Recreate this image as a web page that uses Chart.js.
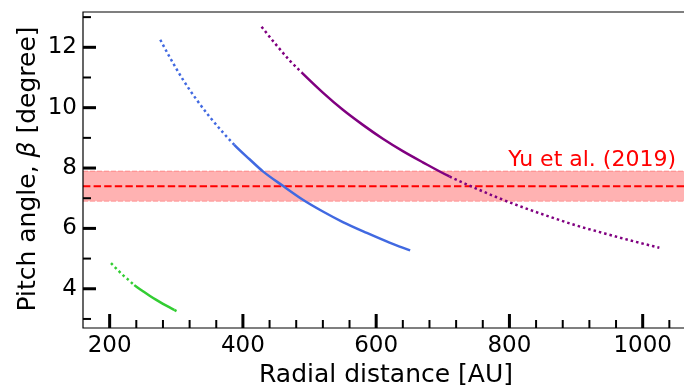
<!DOCTYPE html>
<html>
<head>
<meta charset="utf-8">
<script src="https://cdn.jsdelivr.net/npm/chart.js@4/dist/chart.umd.min.js"></script>
<style>
html, body { margin: 0; padding: 0; background: #fff; }
#wrap { width: 684px; height: 385px; }
</style>
</head>
<body>
<div id="wrap"><canvas id="grafico"></canvas></div>
<script>
// curvas (r en AU, beta en grados)
const greenR = [202, 210, 220, 230, 237, 250, 260, 270, 280, 290, 297, 304];
const greenBeta = [4.85, 4.67, 4.45, 4.26, 4.12, 3.92, 3.77, 3.63, 3.50, 3.38, 3.30, 3.22];
const greenSolid = [237, 297];

const blueR = [276, 290, 310, 330, 350, 370, 387, 410, 430, 460, 490, 520, 550, 586, 620, 651];
const blueBeta = [12.25, 11.68, 10.93, 10.28, 9.70, 9.18, 8.77, 8.29, 7.89, 7.41, 6.95, 6.56, 6.21, 5.85, 5.53, 5.27];
const blueSolid = [387, 651];

const purpleR = [428, 450, 470, 488, 520, 550, 580, 610, 640, 670, 710, 740, 780, 820, 860, 900, 940, 980, 1025];
const purpleBeta = [12.68, 12.08, 11.57, 11.17, 10.50, 9.93, 9.43, 8.97, 8.56, 8.19, 7.72, 7.42, 7.04, 6.70, 6.39, 6.10, 5.85, 5.61, 5.36];
const purpleSolid = [488, 710];

// Yu et al. (2019)
const yuBeta = 7.4;
const yuLow = 6.9;
const yuHigh = 7.9;
const yuLabel = 'Yu et al. (2019)';

const xTicks = [200, 400, 600, 800, 1000];
const xMinor = [240, 280, 320, 360, 440, 480, 520, 560, 640, 680, 720, 760, 840, 880, 920, 960, 1040];
const yTicks = [4, 6, 8, 10, 12];
const yMinor = [3, 5, 7, 9, 11, 13];

const xMin = 160, xMax = 1062;
const yMin = 2.7, yMax = 13.17;

const FONT = 'DejaVu Sans';
const PUNTOS = [2.5, 3];

function curva(label, xs, ys, solid, color) {
    return {
        label: label,
        data: xs.map((x, i) => ({ x: x, y: ys[i] })),
        borderColor: color,
        borderWidth: 2.5,
        borderCapStyle: 'butt',
        borderDash: PUNTOS,
        pointRadius: 0,
        fill: false,
        cubicInterpolationMode: 'monotone',
        segment: {
            borderDash: c => (c.p0.parsed.x >= solid[0] - 0.01 && c.p1.parsed.x <= solid[1] + 0.01) ? [] : PUNTOS
        }
    };
}

// ejes, ticks hacia dentro, titulos y texto
const marco = {
    id: 'marco',
    afterDraw(chart) {
        const ctx = chart.ctx;
        const a = chart.chartArea;
        const xs = chart.scales.x, ys = chart.scales.y;
        ctx.save();
        ctx.strokeStyle = '#000';
        ctx.lineCap = 'butt';

        ctx.lineWidth = 1.2;
        ctx.beginPath();
        ctx.moveTo(a.right, a.top);
        ctx.lineTo(a.left, a.top);
        ctx.lineTo(a.left, a.bottom);
        ctx.lineTo(a.right, a.bottom);
        ctx.stroke();

        function tick(x1, y1, x2, y2, w) {
            ctx.lineWidth = w;
            ctx.beginPath();
            ctx.moveTo(x1, y1);
            ctx.lineTo(x2, y2);
            ctx.stroke();
        }
        xTicks.forEach(v => { const p = xs.getPixelForValue(v); tick(p, a.bottom, p, a.bottom - 14, 3); });
        xMinor.forEach(v => { const p = xs.getPixelForValue(v); tick(p, a.bottom, p, a.bottom - 8, 2); });
        yTicks.forEach(v => { const p = ys.getPixelForValue(v); tick(a.left, p, a.left + 13, p, 3); });
        yMinor.forEach(v => { const p = ys.getPixelForValue(v); tick(a.left, p, a.left + 8, p, 2); });

        ctx.fillStyle = '#000';
        ctx.font = '25px "' + FONT + '"';
        ctx.textAlign = 'center';
        ctx.textBaseline = 'alphabetic';
        ctx.fillText('Radial distance [AU]', 386, 381.5);

        // titulo eje y con beta en cursiva
        const partes = [['Pitch angle, ', ''], ['\u03b2', 'italic '], [' [degree]', '']];
        let total = 0;
        partes.forEach(p => { ctx.font = p[1] + '25px "' + FONT + '"'; total += ctx.measureText(p[0]).width; });
        ctx.translate(35, (a.top + a.bottom) / 2 - 1);
        ctx.rotate(-Math.PI / 2);
        ctx.textAlign = 'left';
        let pos = -total / 2;
        partes.forEach(p => {
            ctx.font = p[1] + '25px "' + FONT + '"';
            ctx.fillText(p[0], pos, 0);
            pos += ctx.measureText(p[0]).width;
        });
        ctx.restore();

        ctx.save();
        ctx.fillStyle = 'red';
        ctx.font = '22px "' + FONT + '"';
        ctx.textAlign = 'right';
        ctx.textBaseline = 'alphabetic';
        ctx.fillText(yuLabel, xs.getPixelForValue(1050), ys.getPixelForValue(8.08));
        ctx.restore();
    }
};

const ctx = document.getElementById('grafico').getContext('2d');
const myChart = new Chart(ctx, {
    type: 'line',
    data: {
        datasets: [
            curva('verde', greenR, greenBeta, greenSolid, '#32cd32'),
            curva('azul', blueR, blueBeta, blueSolid, '#4169e1'),
            curva('morado', purpleR, purpleBeta, purpleSolid, '#800080'),
            {
                label: yuLabel,
                data: [{ x: xMin, y: yuBeta }, { x: xMax, y: yuBeta }],
                borderColor: 'red',
                borderWidth: 2,
                borderDash: [7.4, 3.2],
                pointRadius: 0,
                fill: false
            },
            {
                label: 'banda alta',
                data: [{ x: xMin, y: yuHigh }, { x: xMax, y: yuHigh }],
                borderColor: 'rgba(255, 0, 0, 0.3)',
                borderWidth: 1,
                borderDash: [5, 2],
                backgroundColor: 'rgba(255, 0, 0, 0.3)',
                pointRadius: 0,
                fill: '+1'
            },
            {
                label: 'banda baja',
                data: [{ x: xMin, y: yuLow }, { x: xMax, y: yuLow }],
                borderColor: 'rgba(255, 0, 0, 0.3)',
                borderWidth: 1,
                borderDash: [5, 2],
                pointRadius: 0,
                fill: false
            }
        ]
    },
    options: {
        responsive: true,
        maintainAspectRatio: false,
        animation: false,
        layout: { padding: { top: 12, right: 0, left: 0, bottom: 0 } },
        scales: {
            x: {
                type: 'linear',
                min: xMin,
                max: xMax,
                grid: { display: false, drawTicks: false },
                border: { display: false },
                afterBuildTicks: s => { s.ticks = xTicks.map(v => ({ value: v })); },
                afterFit: s => { s.height = 57; s.paddingLeft = 0; s.paddingRight = 0; },
                ticks: {
                    color: '#000',
                    padding: 4,
                    maxRotation: 0,
                    autoSkip: false,
                    callback: v => String(v),
                    font: { family: FONT, size: 23 }
                }
            },
            y: {
                type: 'linear',
                min: yMin,
                max: yMax,
                grid: { display: false, drawTicks: false },
                border: { display: false },
                afterBuildTicks: s => { s.ticks = yTicks.map(v => ({ value: v })); },
                afterFit: s => { s.width = 83; s.paddingTop = 0; s.paddingBottom = 0; },
                ticks: {
                    color: '#000',
                    padding: 6,
                    autoSkip: false,
                    callback: v => String(v),
                    font: { family: FONT, size: 23 }
                }
            }
        },
        plugins: {
            legend: { display: false },
            tooltip: { enabled: false }
        }
    },
    plugins: [marco]
});
</script>
</body>
</html>
